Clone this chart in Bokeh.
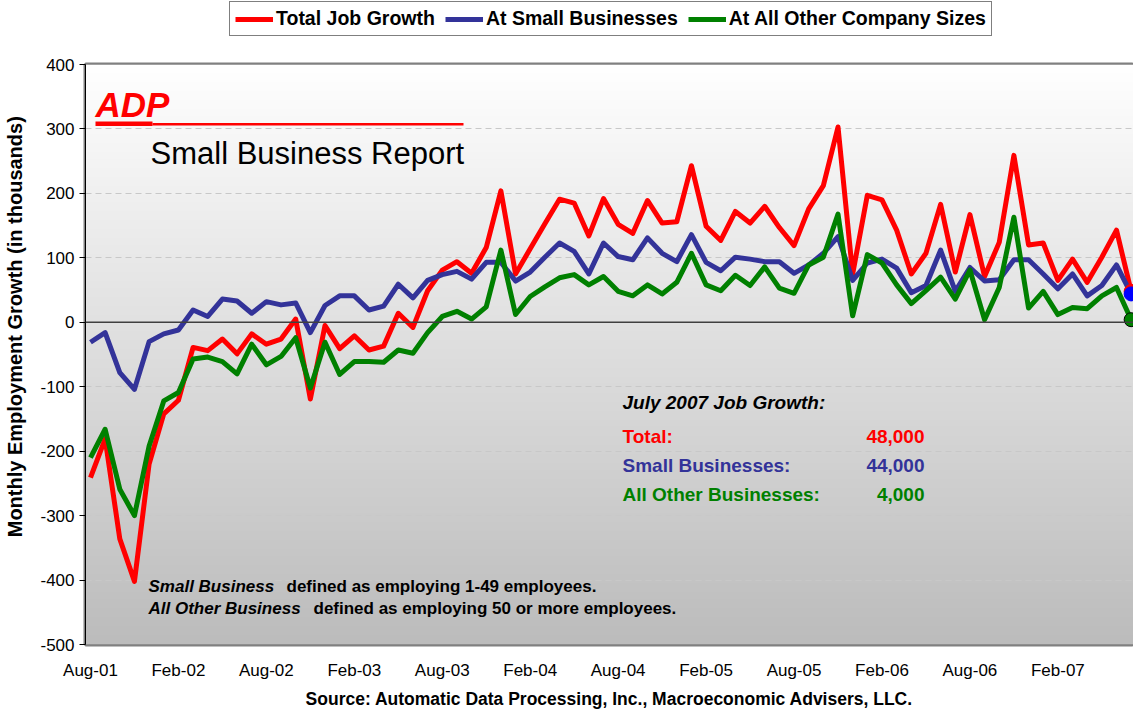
import numpy as np
from bokeh.plotting import figure
from bokeh.layouts import column
from bokeh.models import Range1d, FixedTicker, Label, Legend, LegendItem, Span, BoxAnnotation
from bokeh.embed import file_html
from bokeh.resources import INLINE

# ---------------- data (thousands of jobs, Aug-01 .. Jul-07) ----------------
total_job_growth = [-241, -181, -336, -402, -220, -142, -121, -39, -44, -26, -49, -18,
                    -34, -26, 5, -119, -5, -41, -21, -43, -37, 14, -8, 49,
                    81, 94, 76, 116, 204, 75, 114, 153, 191, 185, 134, 192,
                    152, 138, 189, 154, 156, 243, 149, 127, 172, 154, 180, 147,
                    119, 176, 212, 303, 75, 197, 190, 143, 75, 107, 183, 78,
                    167, 71, 124, 259, 120, 123, 65, 98, 62, 101, 143, 48]
small_businesses = [-31, -16, -78, -104, -30, -18, -12, 19, 9, 36, 33, 14,
                    32, 27, 30, -16, 26, 41, 41, 19, 25, 59, 38, 65,
                    74, 79, 67, 93, 93, 64, 78, 101, 123, 110, 75, 123,
                    102, 97, 131, 107, 94, 136, 93, 80, 101, 98, 94, 94,
                    76, 89, 107, 133, 65, 92, 98, 84, 46, 57, 112, 48,
                    85, 64, 66, 97, 97, 75, 52, 75, 41, 57, 89, 44]
other_sizes = [-210, -166, -259, -300, -192, -122, -109, -57, -54, -61, -80, -34,
               -66, -53, -24, -102, -31, -81, -61, -61, -62, -43, -48, -16,
               9, 17, 5, 24, 112, 12, 40, 55, 69, 74, 58, 71,
               48, 41, 58, 44, 62, 107, 58, 49, 73, 57, 86, 53,
               45, 89, 101, 168, 10, 105, 92, 58, 29, 49, 70, 36,
               81, 4, 54, 163, 22, 48, 12, 23, 21, 41, 54, 4]
tick_labels = ["Aug-01", "Feb-02", "Aug-02", "Feb-03", "Aug-03", "Feb-04",
               "Aug-04", "Feb-05", "Aug-05", "Feb-06", "Aug-06", "Feb-07"]
y_ticks = [-500, -400, -300, -200, -100, 0, 100, 200, 300, 400]
series_names = ["Total Job Growth", "At Small Businesses", "At All Other Company Sizes"]
summary_labels = ["Total:", "Small Businesses:", "All Other Businesses:"]
summary_values = ["48,000", "44,000", "4,000"]

months = list(range(len(total_job_growth)))

# ---------------- layout ----------------
W, H = 1133, 712
LEG_H = 50                     # legend strip on top
PH = H - LEG_H                 # main figure height
FL, FR, FT, FB = 85, 1133, 64, 644   # frame edges in page pixels
X0, X1 = -0.34, 71.16
Y0, Y1 = -500, 400
FONT = "Liberation Sans"
RED, BLUE, GREEN = "#FF0000", "#333399", "#008000"


def dx(px):
    return X0 + (px - FL) / (FR - FL) * (X1 - X0)


def dy(py):
    return Y1 - (py - FT) / (FB - FT) * (Y1 - Y0)


p = figure(width=W, height=PH, output_backend="svg", toolbar_location=None,
           x_range=Range1d(X0, X1), y_range=Range1d(Y0, Y1),
           min_border_left=FL, min_border_right=0, min_border_top=FT - LEG_H,
           min_border_bottom=H - FB)
p.background_fill_color = "white"
p.border_fill_color = "white"
p.outline_line_color = "#808080"
p.outline_line_width = 4

# gradient plot-area background
n = 256
g = np.linspace(188, 255, n).astype(np.uint8)
img = np.empty((n, 1), dtype=np.uint32)
view = img.view(dtype=np.uint8).reshape((n, 1, 4))
view[:, 0, 0] = g
view[:, 0, 1] = g
view[:, 0, 2] = g
view[:, 0, 3] = 255
bg = p.image_rgba(image=[img], x=X0, y=Y0, dw=X1 - X0, dh=Y1 - Y0)
bg.level = "image"

# grid
p.xgrid.visible = False
p.ygrid.ticker = FixedTicker(ticks=y_ticks)
p.ygrid.grid_line_color = "#c8c8c8"
p.ygrid.grid_line_dash = "6 4"
p.ygrid.grid_line_width = 1
p.add_layout(Span(location=0, dimension="width", line_color="#404040", line_width=1.5))

# lines
line_kw = dict(line_width=5, line_join="round")
r_red = p.line(months, total_job_growth, line_color=RED, **line_kw)
r_blue = p.line(months, small_businesses, line_color=BLUE, **line_kw)
r_green = p.line(months, other_sizes, line_color=GREEN, **line_kw)

p.scatter([months[-1]], [total_job_growth[-1]], size=14, fill_color="#FF0000", line_color="#FF0000")
p.scatter([months[-1]], [small_businesses[-1]], size=14, fill_color="#0000FF", line_color="#0000FF")
p.scatter([months[-1]], [other_sizes[-1]], size=14, fill_color=GREEN, line_color="black", line_width=1)

# axes
p.yaxis.ticker = FixedTicker(ticks=y_ticks)
p.yaxis.major_label_overrides = {v: str(v) for v in y_ticks}
p.yaxis.major_label_text_font = FONT
p.yaxis.major_label_text_font_size = "17px"
p.yaxis.major_label_text_color = "black"
p.yaxis.major_tick_out = 6
p.yaxis.major_tick_in = 0
p.yaxis.major_tick_line_color = "black"
p.yaxis.minor_tick_line_color = None
p.yaxis.axis_line_color = "black"
p.yaxis.major_label_standoff = 5
# leading no-break spaces shift the centred title upward, as in the original
p.yaxis.axis_label = "\u00a0" * 10 + "Monthly Employment Growth (in thousands)"
p.yaxis.axis_label_text_font = FONT
p.yaxis.axis_label_text_font_size = "20px"
p.yaxis.axis_label_text_font_style = "bold"
p.yaxis.axis_label_text_color = "black"
p.yaxis.axis_label_standoff = 11

p.xaxis.ticker = FixedTicker(ticks=list(range(0, 72, 6)))
p.xaxis.major_label_overrides = {i * 6: lbl for i, lbl in enumerate(tick_labels)}
p.xaxis.major_label_text_font = FONT
p.xaxis.major_label_text_font_size = "17px"
p.xaxis.major_label_text_color = "black"
p.xaxis.major_tick_line_color = None
p.xaxis.major_tick_out = 0
p.xaxis.major_tick_in = 0
p.xaxis.minor_tick_line_color = None
p.xaxis.minor_tick_out = 0
p.xaxis.axis_line_color = None
p.xaxis.major_label_standoff = 16
p.xaxis.axis_label = "Source: Automatic Data Processing, Inc., Macroeconomic Advisers, LLC."
p.xaxis.axis_label_text_font = FONT
p.xaxis.axis_label_text_font_size = "17.5px"
p.xaxis.axis_label_text_font_style = "bold"
p.xaxis.axis_label_text_color = "black"
p.xaxis.axis_label_standoff = 6

# logo
p.add_layout(Label(x=dx(95), y=dy(104), text="ADP", text_baseline="middle",
                   text_font=FONT, text_font_size="35px", text_font_style="bold italic",
                   text_color=RED))
p.add_layout(BoxAnnotation(left=dx(95), right=dx(152), top=dy(121), bottom=dy(125.5),
                           fill_color=RED, fill_alpha=1, line_color=None))
p.add_layout(BoxAnnotation(left=dx(152), right=dx(463), top=dy(122.5), bottom=dy(125),
                           fill_color=RED, fill_alpha=1, line_color=None))
p.add_layout(Label(x=dx(150), y=dy(153), text="Small Business Report", text_baseline="alphabetic",
                   text_font=FONT, text_font_size="31px", text_color="black"))

# summary box
p.add_layout(Label(x=dx(622), y=dy(402), text="July 2007 Job Growth:", text_baseline="middle",
                   text_font=FONT, text_font_size="19px", text_font_style="bold italic",
                   text_color="black"))
for lbl, val, col, ypx in zip(summary_labels, summary_values, [RED, BLUE, GREEN], [436, 465, 494]):
    p.add_layout(Label(x=dx(622), y=dy(ypx), text=lbl, text_baseline="middle",
                       text_font=FONT, text_font_size="19px", text_font_style="bold",
                       text_color=col))
    p.add_layout(Label(x=dx(924), y=dy(ypx), text=val, text_baseline="middle", text_align="right",
                       text_font=FONT, text_font_size="19px", text_font_style="bold",
                       text_color=col))

# definitions
for ypx, it, rest, xrest in [(586, "Small Business", "defined as employing 1-49 employees.", 286),
                             (608, "All Other Business", "defined as employing 50 or more employees.", 313)]:
    p.add_layout(Label(x=dx(148), y=dy(ypx), text=it, text_baseline="middle",
                       text_font=FONT, text_font_size="17px", text_font_style="bold italic",
                       text_color="black"))
    p.add_layout(Label(x=dx(xrest), y=dy(ypx), text=rest, text_baseline="middle",
                       text_font=FONT, text_font_size="17px", text_font_style="bold",
                       text_color="black"))

# ---------------- legend strip ----------------
lf = figure(width=W, height=LEG_H, output_backend="svg", toolbar_location=None,
            x_range=Range1d(1000, 1001), y_range=Range1d(0, 1),
            x_axis_location=None, y_axis_location=None, min_border=0)
lf.grid.visible = False
lf.outline_line_color = None
lf.background_fill_color = "white"
lf.border_fill_color = "white"
lr = [lf.line(months, s, line_color=c, **line_kw)
      for s, c in ((total_job_growth, RED), (small_businesses, BLUE), (other_sizes, GREEN))]
legend = Legend(items=[LegendItem(label=nm, renderers=[r]) for nm, r in zip(series_names, lr)],
                orientation="horizontal", location=(144, 14),
                glyph_width=38, glyph_height=20, label_standoff=3, spacing=10,
                padding=5, margin=0, label_height=20,
                label_text_font=FONT, label_text_font_size="19.5px",
                label_text_font_style="bold", label_text_color="black",
                border_line_color="black", border_line_width=1,
                background_fill_color="white", background_fill_alpha=1)
lf.add_layout(legend)

layout = column(lf, p, spacing=0)
open("out.html", "w").write(file_html(layout, INLINE))
